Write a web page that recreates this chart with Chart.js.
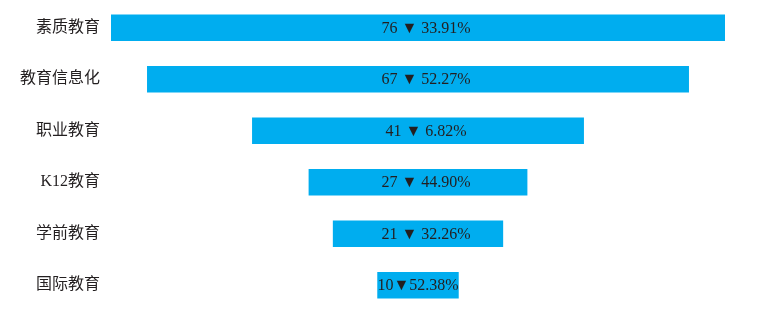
<!DOCTYPE html>
<html>
<head>
<meta charset="utf-8">
<script src="https://cdn.jsdelivr.net/npm/chart.js@4/dist/chart.umd.min.js"></script>
<style>
  html, body { margin: 0; padding: 0; background: #fff; }
  #wrap { width: 767px; height: 313px; }
</style>
</head>
<body>
<div id="wrap"><canvas id="funnelChart"></canvas></div>
<script>
// funnel of education categories, bars centred around zero
const categories = ['素质教育', '教育信息化', '职业教育', 'K12教育', '学前教育', '国际教育'];
const counts = [76, 67, 41, 27, 21, 10];
const barLabels = ['    76 ▼ 33.91%', '    67 ▼ 52.27%', '    41 ▼ 6.82%', '    27 ▼ 44.90%', '    21 ▼ 32.26%', '10▼52.38%'];

const FONT = "'Liberation Serif', 'Noto Sans CJK SC', serif";

// draws the text in the middle of each bar
const centerText = {
  id: 'centerText',
  afterDatasetsDraw(chart) {
    const ctx = chart.ctx;
    const meta = chart.getDatasetMeta(0);
    ctx.save();
    ctx.font = '16px ' + FONT;
    ctx.fillStyle = '#231f20';
    ctx.textAlign = 'center';
    ctx.textBaseline = 'middle';
    meta.data.forEach((bar, i) => {
      const cx = (bar.x + bar.base) / 2;
      ctx.fillText(barLabels[i], cx, bar.y + 1);
    });
    ctx.restore();
  }
};

new Chart(document.getElementById('funnelChart').getContext('2d'), {
  type: 'bar',
  data: {
    labels: categories,
    datasets: [{
      data: counts.map(v => [-v / 2, v / 2]),
      backgroundColor: '#00adef',
      borderWidth: 0,
      borderSkipped: false,
      barThickness: 26
    }]
  },
  options: {
    indexAxis: 'y',
    responsive: true,
    maintainAspectRatio: false,
    animation: false,
    layout: { padding: { top: 2, bottom: 2, left: 0, right: 42 } },
    plugins: {
      legend: { display: false },
      tooltip: { enabled: false }
    },
    scales: {
      x: {
        display: false,
        min: -38,
        max: 38
      },
      y: {
        afterFit(scale) {
          scale.width = 111;
          // no extra room above/below for the tick labels
          scale.paddingTop = 0;
          scale.paddingBottom = 0;
        },
        grid: { display: false, drawTicks: false },
        border: { display: false },
        ticks: {
          padding: 11,
          color: '#231f20',
          font: { family: FONT, size: 16 }
        }
      }
    }
  },
  plugins: [centerText]
});
</script>
</body>
</html>
